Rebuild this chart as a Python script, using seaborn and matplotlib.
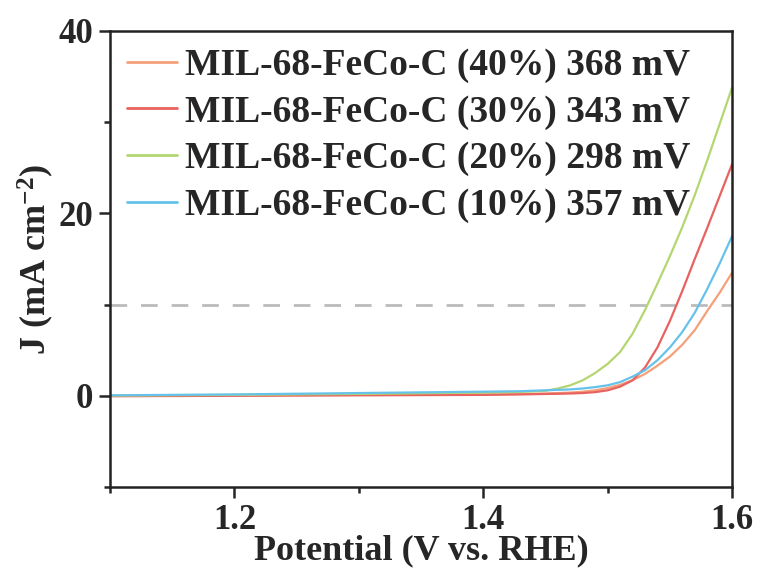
import matplotlib
matplotlib.use("Agg")
import matplotlib.pyplot as plt
from matplotlib.ticker import MultipleLocator
import seaborn as sns
import pandas as pd

potential = [1.10, 1.20, 1.30, 1.40, 1.43, 1.45, 1.46, 1.47, 1.48, 1.49, 1.50, 1.51,
             1.52, 1.53, 1.54, 1.55, 1.56, 1.57, 1.58, 1.59, 1.60]
j_40 = [0.0, 0.05, 0.1, 0.15, 0.2, 0.25, 0.3, 0.35, 0.45, 0.6, 0.85, 1.2,
        1.7, 2.4, 3.3, 4.3, 5.6, 7.2, 9.3, 11.3, 13.5]
j_30 = [-0.05, 0.0, 0.05, 0.1, 0.15, 0.2, 0.22, 0.25, 0.3, 0.4, 0.6, 1.0,
        1.7, 3.1, 5.3, 8.2, 11.5, 15.0, 18.4, 21.9, 25.4]
j_20 = [0.02, 0.1, 0.2, 0.35, 0.42, 0.55, 0.8, 1.15, 1.7, 2.5, 3.5, 4.8,
        6.8, 9.4, 12.3, 15.3, 18.5, 22.0, 25.8, 29.8, 33.8]
j_10 = [0.05, 0.15, 0.3, 0.45, 0.5, 0.6, 0.65, 0.7, 0.8, 0.95, 1.15, 1.5,
        2.1, 2.8, 3.9, 5.3, 7.0, 9.1, 11.7, 14.5, 17.5]
labels = ["MIL-68-FeCo-C (40%) 368 mV", "MIL-68-FeCo-C (30%) 343 mV",
          "MIL-68-FeCo-C (20%) 298 mV", "MIL-68-FeCo-C (10%) 357 mV"]
colors = ["#F4A07A", "#E8625F", "#B4D670", "#66C2EA"]
x_ticks = [1.2, 1.4, 1.6]
y_ticks = [0, 20, 40]
ref_j = 10

sns.set_style("ticks")
plt.rcParams['font.family'] = ['Liberation Serif', 'DejaVu Serif']
plt.rcParams['font.weight'] = 'bold'
plt.rcParams['mathtext.fontset'] = 'custom'
plt.rcParams['mathtext.rm'] = 'Liberation Serif:bold'
plt.rcParams['mathtext.it'] = 'Liberation Serif:bold'
plt.rcParams['mathtext.bf'] = 'Liberation Serif:bold'

frames = []
for lab, ys in zip(labels, [j_40, j_30, j_20, j_10]):
    frames.append(pd.DataFrame({"Potential": potential, "J": ys, "Sample": lab}))
df = pd.concat(frames, ignore_index=True)

fig = plt.figure(figsize=(7.61, 5.74), dpi=100)
ax = fig.add_axes([0.1445, 0.1516, 0.8175, 0.7944])

ax.axhline(ref_j, color="#BBBBBB", lw=2, ls=(0, (6, 5)), zorder=1)
sns.lineplot(data=df, x="Potential", y="J", hue="Sample", hue_order=labels,
             palette=colors, lw=1.6, ax=ax, sort=False, zorder=2)

ax.set_xlim(1.1, 1.6)
ax.set_ylim(-10, 40)
ax.set_xticks(x_ticks)
ax.set_yticks(y_ticks)
ax.xaxis.set_minor_locator(MultipleLocator(0.1))
ax.yaxis.set_minor_locator(MultipleLocator(10))
ax.tick_params(which="major", direction="out", length=8, width=1.8,
               labelsize=25, pad=4)
ax.tick_params(which="minor", direction="out", length=4.5, width=1.8)
for s in ax.spines.values():
    s.set_linewidth(1.8)
    s.set_color("#222222")
for lbl in ax.get_xticklabels() + ax.get_yticklabels():
    lbl.set_fontweight("bold")

ax.set_xlabel("Potential (V vs. RHE)", fontsize=26, fontweight="bold", labelpad=-2)
ax.set_ylabel("J (mA cm$^{-2}$)", fontsize=26, fontweight="bold", labelpad=2)

leg = ax.legend(loc="upper left", frameon=False,
                handlelength=1.35, handletextpad=0.2, labelspacing=0.31,
                borderaxespad=0.4, borderpad=0.05,
                prop={"weight": "bold", "size": 27})
for line in leg.get_lines():
    line.set_linewidth(2)

fig.savefig("out.png", dpi=100)
